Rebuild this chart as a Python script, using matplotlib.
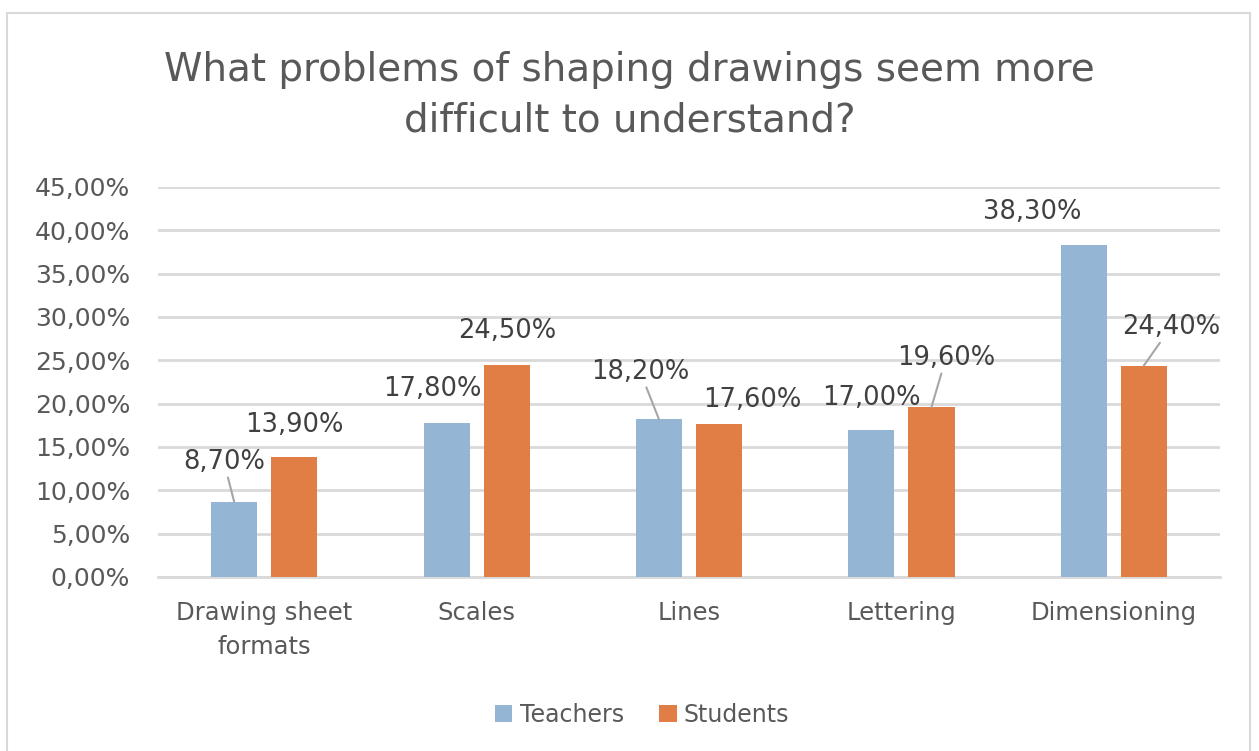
import numpy as np
import matplotlib
matplotlib.use("Agg")
import matplotlib.pyplot as plt
from matplotlib.patches import Rectangle

# survey data (percent)
categories = ["Drawing sheet\nformats", "Scales", "Lines", "Lettering", "Dimensioning"]
teachers = [8.70, 17.80, 18.20, 17.00, 38.30]
students = [13.90, 24.50, 17.60, 19.60, 24.40]
y_ticks = [0, 5, 10, 15, 20, 25, 30, 35, 40, 45]

# where each value label sits (data coords) and whether it gets a leader line
teacher_lbl = [(-0.19, 13.3, True), (0.79, 21.7, False), (1.77, 23.7, True),
               (2.86, 20.6, False), (3.615, 42.1, False)]
student_lbl = [(0.14, 17.5, False), (1.143, 28.4, False), (2.30, 20.4, False),
               (3.21, 25.3, True), (4.27, 28.85, True)]

TEXT = "#595959"
GRID = "#d9d9d9"
BLUE = "#95b5d5"
ORANGE = "#e07e45"

plt.rcParams["font.family"] = ["DejaVu Sans"]

fig = plt.figure(figsize=(12.59, 7.51), dpi=100)
ax = fig.add_axes([158 / 1259, 0.2317, (1220 - 158) / 1259, 0.751 - 0.2317])

x = np.arange(len(categories))
w = 0.217
off = (w + 0.066) / 2
ax.bar(x - off, teachers, w, color=BLUE, label="Teachers", zorder=3)
ax.bar(x + off, students, w, color=ORANGE, label="Students", zorder=3)

ax.set_xlim(-0.5, len(categories) - 0.5)
ax.set_ylim(0, 45)
ax.set_yticks(y_ticks)
ax.set_yticklabels([f"{t:.2f}%".replace(".", ",") for t in y_ticks])
ax.set_xticks(x)
ax.set_xticklabels(categories, linespacing=1.55)
ax.tick_params(axis="y", length=0, pad=20, labelsize=18, labelcolor=TEXT)
ax.tick_params(axis="x", length=0, pad=17, labelsize=17.5, labelcolor=TEXT)
ax.grid(axis="y", color=GRID, linewidth=2, zorder=0)
for s in ["top", "right", "left"]:
    ax.spines[s].set_visible(False)
ax.spines["bottom"].set_color(GRID)
ax.spines["bottom"].set_linewidth(2)


def put_labels(vals, pos, shift):
    for i, (v, (lx, ly, lead)) in enumerate(zip(vals, pos)):
        txt = f"{v:.2f}%".replace(".", ",")
        props = None
        if lead:
            props = dict(arrowstyle="-", color="#a6a6a6", lw=1.5,
                         shrinkA=0, shrinkB=0)
        ax.annotate(txt, xy=(i + shift, v), xytext=(lx, ly),
                    textcoords="data", ha="center", va="center",
                    fontsize=18.5, color="#404040", arrowprops=props, zorder=4)


put_labels(teachers, teacher_lbl, -off)
put_labels(students, student_lbl, off)

fig.text(0.5, (751 - 70) / 751, "What problems of shaping drawings seem more",
         ha="center", va="center", fontsize=28, color=TEXT)
fig.text(0.5, (751 - 120) / 751, "difficult to understand?",
         ha="center", va="center", fontsize=28, color=TEXT)

fig.legend(loc="center", bbox_to_anchor=(0.51, (751 - 715) / 751), ncol=2,
           frameon=False, fontsize=17, labelcolor=TEXT, handlelength=0.75,
           handleheight=0.75, handletextpad=0.3, columnspacing=1.5)

# light frame around the chart
fig.patches.append(Rectangle((7 / 1259, -0.05), (1250 - 7) / 1259, 0.983 + 0.05,
                             transform=fig.transFigure, fill=False,
                             edgecolor=GRID, linewidth=1.5))

fig.savefig("out.png", dpi=100, facecolor="white")
